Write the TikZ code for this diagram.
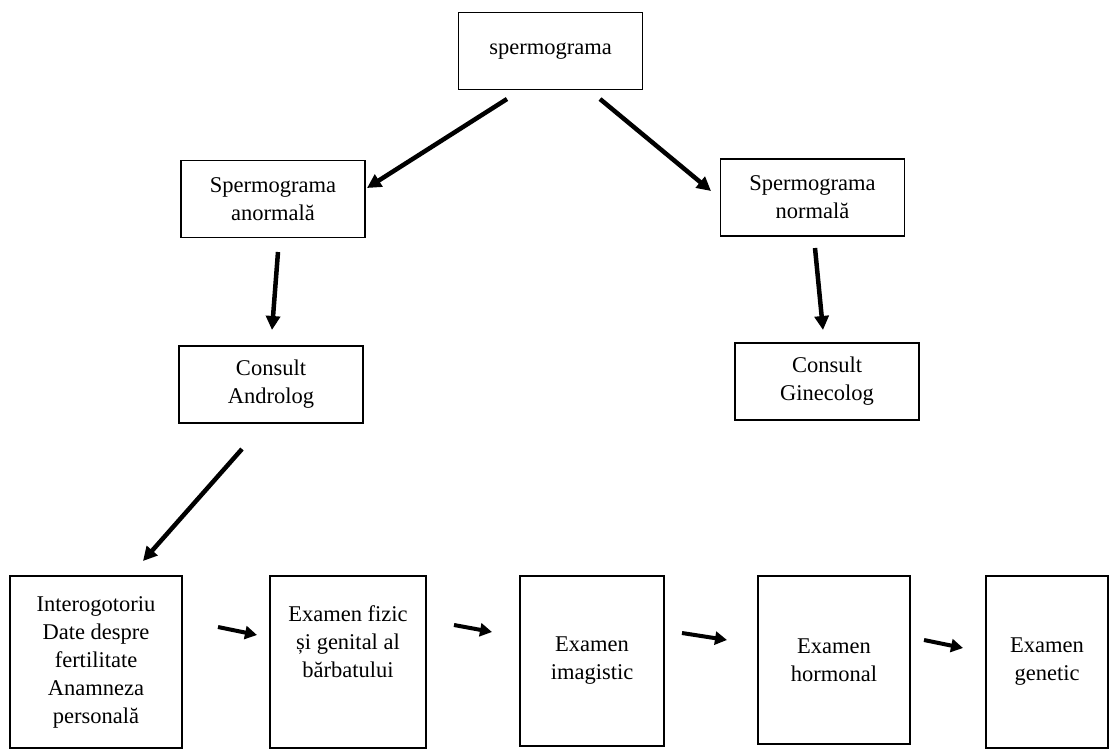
\documentclass[tikz,border=0pt]{standalone}
\usepackage{fontspec}
\setmainfont{Liberation Serif}
\usetikzlibrary{arrows.meta}
\begin{document}
\begin{tikzpicture}[x=1pt,y=-1pt,font=\fontsize{22.5}{28}\selectfont,line width=4.5pt,-{Triangle[length=14pt,width=14pt]}]
	\tikzstyle{every node}=[rectangle,draw=black,line width=1.6pt,align=center,inner sep=0pt]
	\tikzstyle{wide} =[minimum width=184pt,minimum height=77pt] % wide = upper boxes
	\tikzstyle{tall} =[minimum height=172pt]                     % tall = lower boxes
	\useasboundingbox (0,0) rectangle (1116,749);
	% boxes
	\node(sp)[wide] at (550.5,51) {spermograma};
	\node(anorm)[wide] at (273,199) {Spermograma\\ anormală};
	\node(norm)[wide] at (812.5,197.5) {Spermograma\\ normală};
	\node(andro)[wide] at (271,384.5) {Consult\\ Androlog};
	\node(gineco)[wide] at (827,381.5) {Consult\\ Ginecolog};
	\node(interog)[tall,minimum width=172pt] at (96,662) {Interogotoriu\\ Date despre\\ fertilitate\\ Anamneza\\ personală};
	\node(fizic)[tall,minimum width=156pt] at (348,662) {Examen fizic\\ și genital al\\ bărbatului\\[12pt]\mbox{}};
	\node(imag)[tall,minimum width=144pt,minimum height=170pt] at (592,661) {Examen\\ imagistic};
	\node(horm)[tall,minimum width=152pt,minimum height=168pt] at (834,660) {Examen\\ hormonal};
	\node(genet)[tall,minimum width=122pt] at (1047,662) {Examen\\ genetic};
	% arrow ends
	\coordinate(s1) at (507,99);   \coordinate(e1) at (367,188);
	\coordinate(s2) at (600,99);   \coordinate(e2) at (711,191);
	\coordinate(s3) at (278,252);  \coordinate(e3) at (272,330);
	\coordinate(s4) at (815,248);  \coordinate(e4) at (823,330);
	\coordinate(s5) at (242,449);  \coordinate(e5) at (143,561);
	\coordinate(s6) at (218,627);  \coordinate(e6) at (257,635);
	\coordinate(s7) at (454,625);  \coordinate(e7) at (492,632);
	\coordinate(s8) at (682,633);  \coordinate(e8) at (727,640);
	\coordinate(s9) at (924,640);  \coordinate(e9) at (963,648);
	% arrows upper part
	\draw(s1)--(e1);
	\draw(s2)--(e2);
	\draw(s3)--(e3);
	\draw(s4)--(e4);
	\draw(s5)--(e5);
	% arrows lower row
	\tikzstyle{small}=[line width=4pt,-{Triangle[length=12pt,width=13pt]}]
	\draw(s6)--(e6)[small];
	\draw(s7)--(e7)[small];
	\draw(s8)--(e8)[small];
	\draw(s9)--(e9)[small];
\end{tikzpicture}
\end{document}
